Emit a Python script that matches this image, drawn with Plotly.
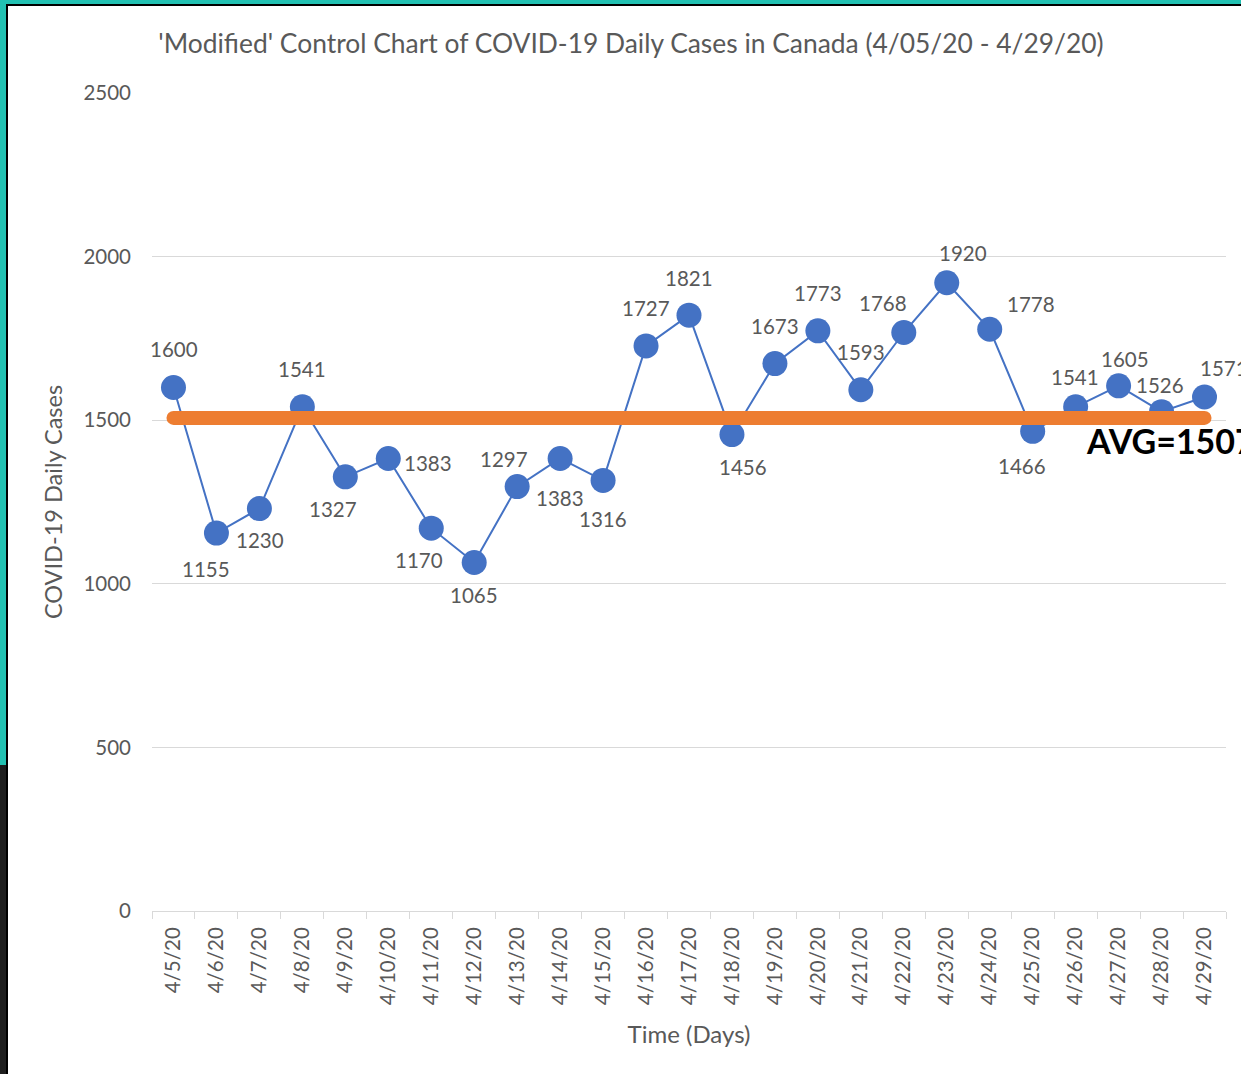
import plotly.graph_objects as go

dates = ["4/5/20", "4/6/20", "4/7/20", "4/8/20", "4/9/20", "4/10/20", "4/11/20",
         "4/12/20", "4/13/20", "4/14/20", "4/15/20", "4/16/20", "4/17/20", "4/18/20",
         "4/19/20", "4/20/20", "4/21/20", "4/22/20", "4/23/20", "4/24/20", "4/25/20",
         "4/26/20", "4/27/20", "4/28/20", "4/29/20"]
cases = [1600, 1155, 1230, 1541, 1327, 1383, 1170, 1065, 1297, 1383, 1316, 1727, 1821,
         1456, 1673, 1773, 1593, 1768, 1920, 1778, 1466, 1541, 1605, 1526, 1571]
avg_value = 1507
y_ticks = [0, 500, 1000, 1500, 2000, 2500]

# label offsets (pixels) relative to each point
label_dx = [1, -10, 1, 0, -12, 40, -12, 0, -13, 0, 0, 0, 0, 11, 0, 0, 0, -21, 16, 41, -11, -1, 6, -2, 19]
label_dy = [38, -36, -31, 38, -32, -5, -32, -32, 28, -40, -39, 38, 37, -32, 38, 38, 38, 30, 30, 25, -35, 30, 27, 27, 29]

FONT = "Lato"
GREY = "#595959"
BLUE = "#4472C4"
ORANGE = "#ED7D31"

fig = go.Figure()
fig.add_trace(go.Scatter(
    x=dates, y=cases, mode="lines+markers",
    line=dict(color=BLUE, width=2),
    marker=dict(color=BLUE, size=25),
    showlegend=False, cliponaxis=False,
))
fig.add_trace(go.Scatter(
    x=[dates[0], dates[-1]], y=[avg_value, avg_value], mode="lines+markers",
    line=dict(color=ORANGE, width=14),
    marker=dict(color=ORANGE, size=14, line=dict(width=0)),
    showlegend=False, cliponaxis=False,
))

annotations = []
for d, v, dx, dy in zip(dates, cases, label_dx, label_dy):
    annotations.append(dict(x=d, y=v, text=str(v), showarrow=False,
                            xshift=dx, yshift=dy,
                            font=dict(family=FONT, size=20.5, color=GREY)))
annotations.append(dict(x=dates[-1], y=avg_value, text=f"<b>AVG={avg_value}</b>",
                        showarrow=False, xanchor="left", xshift=-121, yshift=-23,
                        font=dict(family=FONT, size=34, color="#000000")))

# page border decoration (paper coordinates converted from pixels)
W, H = 1241, 1074
L, R, T, B = 152, 15, 93, 163
pw, ph = W - L - R, H - T - B
def px(x):
    return (x - L) / pw
def py(y):
    return (H - B - y) / ph

shapes = [
    dict(type="rect", xref="paper", yref="paper", x0=px(0), x1=px(W), y0=py(0), y1=py(4),
         fillcolor="#22C1B2", line=dict(width=0), layer="above"),
    dict(type="rect", xref="paper", yref="paper", x0=px(0), x1=px(6), y0=py(0), y1=py(765),
         fillcolor="#22C1B2", line=dict(width=0), layer="above"),
    dict(type="rect", xref="paper", yref="paper", x0=px(0), x1=px(6), y0=py(765), y1=py(H),
         fillcolor="#1E1E1E", line=dict(width=0), layer="above"),
    dict(type="rect", xref="paper", yref="paper", x0=px(6), x1=px(W), y0=py(4), y1=py(6),
         fillcolor="#000000", line=dict(width=0), layer="above"),
    dict(type="rect", xref="paper", yref="paper", x0=px(6), x1=px(8), y0=py(4), y1=py(H),
         fillcolor="#000000", line=dict(width=0), layer="above"),
]

fig.update_layout(
    width=W, height=H,
    margin=dict(l=L, r=R, t=T, b=B),
    paper_bgcolor="white", plot_bgcolor="white",
    font=dict(family=FONT, color=GREY),
    title=dict(text="'Modified' Control Chart of COVID-19 Daily Cases in Canada (4/05/20 - 4/29/20)",
               x=631 / W, xanchor="center", y=1 - 44 / H, yanchor="middle",
               font=dict(family=FONT, size=26.4, color=GREY)),
    xaxis=dict(type="category", categoryorder="array", categoryarray=dates,
               range=[-0.5, len(dates) - 0.5],
               tickangle=-90, tickson="boundaries", ticks="outside", ticklen=7,
               tickcolor="#D9D9D9", showline=True, linecolor="#D9D9D9", linewidth=1,
               showgrid=False, ticklabelstandoff=7,
               tickfont=dict(family=FONT, size=20.5, color=GREY),
               title=dict(text="Time (Days)", font=dict(family=FONT, size=24, color=GREY), standoff=22)),
    yaxis=dict(range=[0, 2500], tickvals=y_ticks, showgrid=True, gridcolor="#D9D9D9",
               gridwidth=1, zeroline=False, showline=False, ticks="",
               ticklabelstandoff=20, tickfont=dict(family=FONT, size=20.5, color=GREY),
               title=dict(text="COVID-19 Daily Cases", font=dict(family=FONT, size=23.5, color=GREY), standoff=14)),
    annotations=annotations,
    shapes=shapes,
)

fig.write_html("out.html", config={"displayModeBar": False},
               post_script="document.body.style.margin='0';document.body.style.overflow='hidden';")
